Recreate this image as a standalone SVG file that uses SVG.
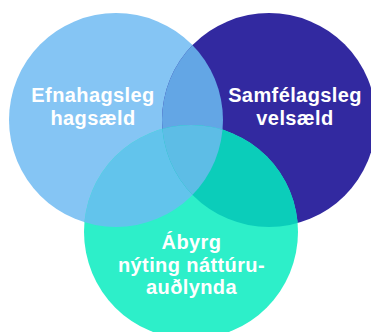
<svg xmlns="http://www.w3.org/2000/svg" width="371" height="332" viewBox="0 0 371 332">
<style>
.lbl{font-family:"Liberation Sans","DejaVu Sans",Arial,sans-serif;font-weight:bold;font-size:20px;fill:#ffffff;text-anchor:middle;letter-spacing:0.4px}
</style>
<defs>
<clipPath id="cL"><circle cx="116" cy="120" r="107"/></clipPath>
<clipPath id="cR"><circle cx="269" cy="120" r="107"/></clipPath>
</defs>
<rect width="371" height="332" fill="#ffffff"/>
<g id="node-left"><circle cx="116" cy="120" r="107" fill="#85C5F4"/></g>
<g id="node-right"><circle cx="269" cy="120" r="107" fill="#3229A0"/></g>
<g id="node-bottom"><circle cx="191" cy="232" r="107" fill="#2DEFC9"/></g>
<g id="overlaps">
<circle cx="269" cy="120" r="107" fill="#63A6E5" clip-path="url(#cL)"/>
<circle cx="191" cy="232" r="107" fill="#62C4EC" clip-path="url(#cL)"/>
<circle cx="191" cy="232" r="107" fill="#0BCDBA" clip-path="url(#cR)"/>
<g clip-path="url(#cR)"><circle cx="191" cy="232" r="107" fill="#5DBDE6" clip-path="url(#cL)"/></g>
</g>
<g id="labels">
<text class="lbl" x="93" y="102">Efnahagsleg</text>
<text class="lbl" x="93" y="125">hagsæld</text>
<text class="lbl" x="295" y="102">Samfélagsleg</text>
<text class="lbl" x="295" y="125">velsæld</text>
<text class="lbl" x="191.5" y="249">Ábyrg</text>
<text class="lbl" x="191.5" y="272">nýting náttúru-</text>
<text class="lbl" x="191.5" y="294">auðlynda</text>
</g>
</svg>
